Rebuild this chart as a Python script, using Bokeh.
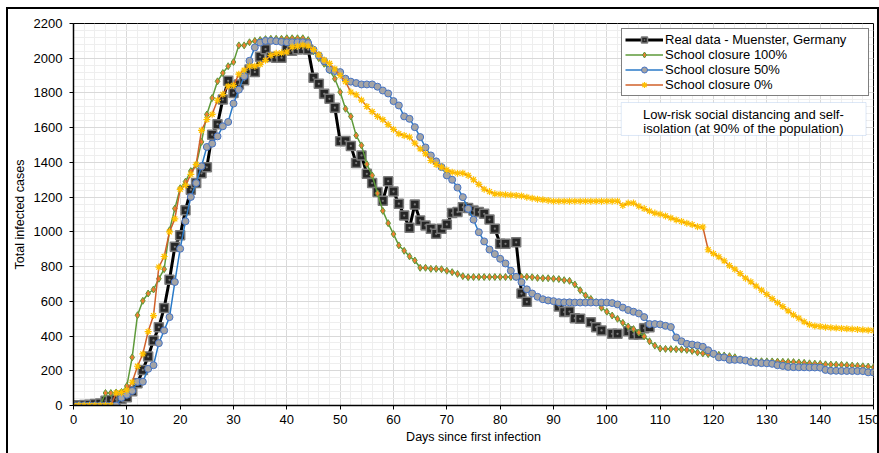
from bokeh.plotting import figure
from bokeh.models import (ColumnDataSource, Legend, LegendItem, BoxAnnotation, Label,
                          FixedTicker, Range1d, InlineStyleSheet)
from bokeh.embed import file_html
from bokeh.resources import INLINE

N = None
# ---------------- data ----------------
days = list(range(151))
real_days = list(range(109))
real_cases = [
    0, 2, 3, 5, 8, 12, 28, 32, 35, 38,
    48, 82, 128, 205, 282, 375, 451, 562, 724, 914,
    980, 1125, 1243, 1281, 1337, 1372, 1560, 1620, 1762, 1870,
    1800, 1848, 1873, 1935, 1921, 2008, 2052, 2007, 2003, 2003,
    2054, 2043, 2052, 2052, 2050, 1887, 1853, 1795, 1766, 1715,
    1522, 1523, 1495, 1396, 1440, 1334, 1281, 1229, 1179, 1292,
    1232, 1162, 1094, 1023, 1158, 1066, 1037, 1018, 989, 1018,
    1043, 1108, 1114, 1142, 1137, 1123, 1114, 1104, 1071, 1018,
    931, 931, N, 940, 645, 597, N, N, N, N,
    N, 570, 538, 541, 503, 499, N, 480, 451, 432,
    N, 413, 413, N, 428, 409, 409, 445, 451,
]
closure_100 = [
    0, 0, 0, 0, 0, 0, 72, 72, 75, 78,
    112, 277, 520, 603, 645, 668, 730, 785, 1009, 1134,
    1251, 1289, 1350, 1385, 1518, 1676, 1771, 1867, 1915, 1954,
    1978, 2074, 2074, 2092, 2100, 2105, 2110, 2112, 2112, 2112,
    2115, 2115, 2115, 2115, 2105, 2040, 2000, 1968, 1930, 1882,
    1805, 1709, 1665, 1555, 1498, 1390, 1325, 1222, 1121, 1050,
    987, 922, 891, 859, 835, 793, 793, 787, 787, 785,
    776, 768, 758, 745, 739, 740, 740, 740, 740, 740,
    740, 740, 740, 741, 741, 741, 739, 735, 733, 733,
    730, 728, 722, 718, 697, 664, 634, 614, 595, 563,
    540, 518, 499, 476, 455, 440, 420, 398, 370, 345,
    328, 326, 325, 324, 322, 320, 314, 306, 300, 296,
    294, 292, 288, 284, 278, 266, 259, 256, 255, 255,
    254, 254, 253, 252, 251, 250, 248, 246, 243, 241,
    240, 237, 236, 235, 234, 232, 230, 228, 226, 224,
    220,
]
closure_50 = [
    0, 0, 0, 0, 0, 0, 0, 0, 0, 45,
    62, 84, 136, 137, 211, 232, 359, 432, 509, 711,
    903, 1061, 1201, 1281, 1378, 1489, 1508, 1550, 1608, 1633,
    1739, 1819, 1896, 1985, 2062, 2090, 2100, 2100, 2098, 2094,
    2092, 2092, 2092, 2092, 2087, 2049, 2016, 1983, 1935, 1926,
    1920, 1882, 1865, 1857, 1849, 1849, 1849, 1836, 1814, 1797,
    1753, 1728, 1665, 1651, 1603, 1546, 1486, 1440, 1406, 1373,
    1325, 1300, 1255, 1200, 1133, 1070, 998, 945, 898, 872,
    845, 818, 776, 741, 710, 669, 645, 626, 612, 605,
    601, 595, 594, 594, 593, 593, 593, 593, 593, 593,
    593, 590, 582, 564, 550, 540, 530, 509, 469, 469,
    467, 459, 452, 392, 370, 355, 351, 346, 338, 318,
    298, 277, 277, 263, 263, 263, 259, 250, 246, 244,
    243, 240, 232, 228, 222, 221, 220, 220, 219, 219,
    218, 205, 200, 200, 199, 199, 199, 198, 198, 191,
    190,
]
closure_0 = [
    0, 0, 0, 0, 0, 0, 0, 0, 72, 75,
    88, 134, 226, 297, 426, 518, 797, 858, 1000, 1075,
    1245, 1268, 1331, 1389, 1585, 1647, 1677, 1758, 1792, 1839,
    1844, 1908, 1931, 1954, 1954, 1965, 1988, 2017, 2028, 2031,
    2036, 2065, 2069, 2075, 2070, 2050, 2020, 1990, 1970, 1938,
    1901, 1865, 1805, 1789, 1759, 1722, 1692, 1665, 1646, 1618,
    1590, 1565, 1555, 1546, 1511, 1478, 1450, 1411, 1388, 1373,
    1357, 1344, 1338, 1338, 1325, 1300, 1274, 1246, 1232, 1219,
    1217, 1214, 1212, 1210, 1207, 1200, 1194, 1188, 1185, 1181,
    1177, 1177, 1177, 1177, 1177, 1177, 1177, 1177, 1177, 1177,
    1177, 1177, 1177, 1152, 1166, 1166, 1148, 1134, 1120, 1108,
    1102, 1092, 1080, 1069, 1060, 1050, 1042, 1030, 1028, 897,
    875, 856, 833, 806, 785, 760, 733, 712, 688, 664,
    640, 615, 592, 570, 545, 522, 503, 482, 466, 458,
    455, 451, 448, 446, 444, 442, 440, 438, 436, 434,
    432,
]
series_names = ["Real data - Muenster, Germany", "School closure 100%",
                "School closure 50%", "School closure 0%"]
x_ticks = list(range(0, 151, 10))
y_ticks = list(range(0, 2201, 200))
annotation_lines = ["Low-risk social distancing and self-",
                    "isolation (at 90% of the population)"]

FONT = "Liberation Sans"

def nanify(vals):
    return [float("nan") if v is None else v for v in vals]

p = figure(width=879, height=453, output_backend="svg", toolbar_location=None,
           x_range=Range1d(0, 150), y_range=Range1d(0, 2200),
           min_border_left=73, min_border_right=6, min_border_top=23,
           min_border_bottom=48, background_fill_color="white",
           border_fill_color="white")

p.outline_line_color = "black"
p.outline_line_width = 1

# axes
p.xaxis.ticker = FixedTicker(ticks=x_ticks, minor_ticks=list(range(0, 151, 2)))
p.yaxis.ticker = FixedTicker(ticks=y_ticks, minor_ticks=list(range(0, 2201, 40)))
for ax in (p.xaxis[0], p.yaxis[0]):
    ax.axis_line_color = "black"
    ax.axis_line_width = 1.5
    ax.major_tick_line_color = "black"
    ax.major_tick_out = 4
    ax.major_tick_in = 0
    ax.minor_tick_line_color = None
    ax.major_label_text_font = FONT
    ax.major_label_text_font_size = "13px"
    ax.major_label_text_color = "black"
    ax.axis_label_text_font = FONT
    ax.axis_label_text_font_size = "12.5px"
    ax.axis_label_text_font_style = "normal"
    ax.axis_label_text_color = "black"
p.xaxis.axis_label = "Days since first infection"
p.yaxis.axis_label = "Total infected cases"
p.xaxis.major_label_standoff = 5
p.yaxis.major_label_standoff = 7
p.xaxis.axis_label_standoff = 3
p.yaxis.axis_label_standoff = 4

p.xgrid.grid_line_color = "#d9d9d9"
p.ygrid.grid_line_color = "#d9d9d9"
p.xgrid.minor_grid_line_color = "#eeeeee"
p.ygrid.minor_grid_line_color = "#eeeeee"

# series
src_real = ColumnDataSource(dict(x=real_days, y=nanify(real_cases)))
src_g = ColumnDataSource(dict(x=days, y=closure_100))
src_b = ColumnDataSource(dict(x=days, y=closure_50))
src_o = ColumnDataSource(dict(x=days, y=closure_0))

r_real_l = p.line("x", "y", source=src_real, line_color="black", line_width=3)
r_real_m = p.scatter("x", "y", source=src_real, marker="square_dot", size=9,
                     fill_color="#262626", line_color="#7a7a7a", line_width=1.5)

r_g_l = p.line("x", "y", source=src_g, line_color="#5e9a3a", line_width=1.5)
r_g_m = p.scatter("x", "y", source=src_g, marker="diamond", size=7,
                  fill_color="#ed7d31", line_color="#5e9a3a", line_width=1)

r_b_l = p.line("x", "y", source=src_b, line_color="#2a7ac8", line_width=1.5)
r_b_m = p.scatter("x", "y", source=src_b, marker="circle", size=7,
                  fill_color="#a5a5a5", line_color="#4472c4", line_width=1)

r_o_l = p.line("x", "y", source=src_o, line_color="#d0602a", line_width=1.5)
r_o_m = p.scatter("x", "y", source=src_o, marker="asterisk", size=7,
                  line_color="#ffc000", line_width=1.2)

legend = Legend(items=[
    LegendItem(label=series_names[0], renderers=[r_real_l, r_real_m]),
    LegendItem(label=series_names[1], renderers=[r_g_l, r_g_m]),
    LegendItem(label=series_names[2], renderers=[r_b_l, r_b_m]),
    LegendItem(label=series_names[3], renderers=[r_o_l, r_o_m]),
], location=(548, 309))
legend.padding = 3
legend.spacing = 0
legend.margin = 0
legend.glyph_width = 38
legend.glyph_height = 15
legend.label_height = 15
legend.label_standoff = 2
legend.label_width = 200
legend.label_text_font = FONT
legend.label_text_font_size = "13px"
legend.label_text_color = "black"
legend.border_line_color = "black"
legend.border_line_width = 1
legend.background_fill_color = "white"
legend.background_fill_alpha = 1
p.add_layout(legend, "center")

# annotation box
box = BoxAnnotation(left=102.7, right=148.6, bottom=1555, top=1745,
                    fill_color="white", fill_alpha=1,
                    line_color="#8fb4e3", line_width=1)
p.add_layout(box)
p.add_layout(Label(x=125.6, y=1676, text=annotation_lines[0], text_align="center",
                   text_baseline="middle", text_font=FONT, text_font_size="13px",
                   text_color="black"))
p.add_layout(Label(x=125.6, y=1597, text=annotation_lines[1], text_align="center",
                   text_baseline="middle", text_font=FONT, text_font_size="13px",
                   text_color="black"))

# outer chart frame drawn over the canvas
p.stylesheets = [InlineStyleSheet(css=":host::after { content: ''; position: absolute; "
                                  "left: 6px; top: 7px; right: 0px; bottom: -30px; "
                                  "border: 2.5px solid black; pointer-events: none; z-index: 100; }")]

open("out.html", "w").write(file_html(p, INLINE))
